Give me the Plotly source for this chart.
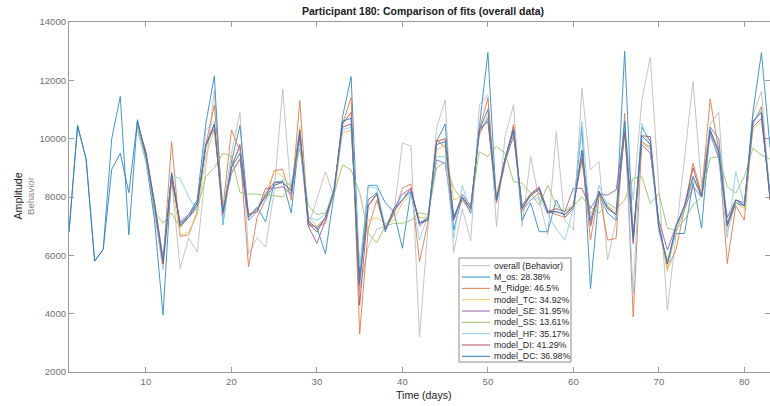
import plotly.graph_objects as go

# ---- data -------------------------------------------------------------
days = list(range(1, 84))

behavior = [None, None, None, None, None, None, None, None,
            10300, 9200, 7400, 5500, 8600, 5550, 6600, 6100, 9000, 11650,
            7500, 9500, 10900, 6050, 6600, 6300, 8200, 11700, 8000, 10000,
            7000, 7900, 8870, 8000, 10400, 10500, 4800, 6300, 6900, 6980,
            7400, 9850, 9750, 3200, 7000, 10360, 11330, 6100, 7600, 6500,
            11160, 11500, 6980, 10070, 11160, 6980, 9390, 7900, 6700, 10240,
            7200, 6870, 11730, 8930, 9210, 5840, 7200, 10300, 7900, 11300,
            12800, 8300, 4120, 6700, 9300, 11960, 8350, 10500, 10900, 6800,
            7800, 7600, 10800, 11620, 8000]

m_os = [6800, 10450, 9300, 5800, 6200, 10000, 11450, 6700,
        10650, 9300, 7200, 3950, 8850, 7000, 7400, 7900, 10500, 12150,
        7050, 9200, 10450, 7350, 7650, 7150, 8500, 8550, 7450, 10200,
        7100, 6950, 6050, 8100, 10750, 12130, 5300, 8400, 8400, 7800,
        7500, 6240, 8200, 7100, 7300, 9900, 10500, 6870, 8000, 7440,
        10400, 12950, 7800, 9300, 10400, 7200, 7800, 6810, 6810, 7900,
        7300, 7600, 10400, 4860, 8100, 7450, 7200, 13000, 6500, 10400,
        9900, 6900, 5800, 6750, 6750, 8500, 6930, 10400, 10000, 7000,
        7800, 7700, 10900, 12950, 9700]

m_ridge = [None, None, None, None, None, None, None, None,
           10500, 9450, 7600, 5700, 9900, 6650, 6700, 7500, 9800, 11150,
           7600, 10300, 9600, 5600, 7300, 7900, 8900, 8950, 7900, 11300,
           7000, 7000, 7100, 8200, 10500, 11420, 3300, 6900, 7900, 6900,
           7400, 8300, 8450, 5780, 7150, 9950, 9700, 7200, 7900, 7500,
           10300, 11390, 7800, 9100, 10500, 7500, 7900, 8150, 7500, 7400,
           7300, 7600, 9600, 6520, 8200, 6520, 6580, 10870, 3890, 9900,
           9700, 6900, 5550, 6180, 7600, 9160, 8100, 11360, 9600, 5720,
           7700, 7210, 10500, 11100, 7900]

model_tc = [None, None, None, None, None, None, None, None,
            10400, 9300, 7800, 5900, 8500, 6700, 6800, 7400, 9400, 10300,
            7700, 8900, 9300, 7400, 7600, 8100, 8900, 8700, 8300, 10400,
            7300, 7000, 7300, 8100, 10200, 10300, 5600, 7200, 7300, 7100,
            7200, 7800, 8100, 7300, 7300, 9600, 9800, 7900, 8000, 7700,
            10100, 10800, 8100, 9200, 10100, 7700, 8100, 8300, 7500, 7600,
            7500, 7800, 9200, 7400, 8000, 7700, 7500, 10300, 6800, 9900,
            9600, 7100, 5430, 6900, 7500, 8600, 8100, 10100, 9400, 7300,
            7800, 7600, 10300, 10600, 8100]

model_se = [None, None, None, None, None, None, None, None,
            10500, 9550, 7800, 5900, 8600, 7150, 7400, 7800, 9800, 10350,
            7500, 8800, 9300, 7200, 7500, 8300, 8300, 8350, 8100, 10000,
            7000, 6410, 7200, 8300, 10400, 10500, 5200, 7700, 8100, 6900,
            7600, 8100, 8300, 7000, 7300, 9270, 9150, 7200, 8100, 7700,
            10200, 10700, 7900, 9200, 10100, 7700, 8100, 8350, 7500, 7600,
            7500, 8300, 8300, 7610, 8100, 8070, 8240, 10300, 6700, 9800,
            9500, 7200, 6180, 7000, 7600, 8350, 8000, 10200, 9300, 7300,
            7900, 7800, 10400, 10700, 8100]

model_ss = [None, None, None, None, None, None, None, None,
            10400, 9300, 7500, 7100, 7450, 6950, 7300, 7600, 8700, 9000,
            9500, 9400, 8150, 8100, 8100, 8050, 8050, 8000, 8400, 9670,
            7700, 7400, 7450, 8100, 9100, 8930, 8150, 6750, 6430, 7000,
            7100, 7100, 7200, 7460, 7400, 9000, 9200, 8300, 7900, 7700,
            9560, 9390, 9730, 9500, 8530, 8470, 8130, 7720, 8410, 7700,
            7500, 7700, 8000, 7650, 7450, 7800, 7600, 7900, 8640, 8700,
            7780, 8130, 6925, 6870, 7210, 7730, 8000, 9330, 9390, 8355,
            8130, 8700, 9670, 9440, 9300]

model_hf = [None, None, None, None, None, None, None, None,
            10500, 9200, 7600, 5900, 8700, 8640, 8000, 7500, 10300, 10600,
            7070, 9100, 9700, 7300, 7600, 7900, 8400, 8600, 8400, 9900,
            7300, 7200, 7400, 8300, 10300, 10400, 5600, 8350, 8300, 7000,
            7500, 8100, 8100, 6520, 7400, 9380, 9400, 6580, 8400, 7500,
            10300, 10700, 7900, 9300, 10200, 7600, 7900, 8000, 7400, 6900,
            6520, 7600, 10590, 7000, 8400, 7700, 7300, 10600, 4690, 10530,
            9700, 6800, 5800, 6750, 7600, 8700, 8100, 10100, 9400, 6600,
            8870, 7700, 10500, 11000, 8000]

model_di = [None, None, None, None, None, None, None, None,
            10600, 9500, 7800, 5700, 8800, 7000, 7300, 7700, 9800, 10500,
            7400, 9000, 9800, 7400, 7500, 8100, 8500, 8500, 8200, 10300,
            7100, 6800, 7300, 8200, 10500, 10900, 4290, 7700, 8100, 6900,
            7500, 7900, 8300, 7100, 7200, 9900, 10000, 7300, 8000, 7600,
            10300, 10590, 7900, 9300, 10300, 7600, 8100, 8300, 7500, 7500,
            7400, 7700, 9330, 7000, 8200, 7600, 7400, 10190, 6400, 10100,
            10070, 7000, 5700, 7000, 7700, 9000, 8000, 10300, 9600, 7000,
            7900, 7700, 10600, 10900, 7900]

model_dc = [6800, 10450, 9300, 5800, 6200, 8950, 9500, 8150,
            10600, 9400, 7700, 5800, 8800, 7100, 7300, 7800, 9700, 10500,
            7500, 9000, 9500, 7300, 7600, 8000, 8400, 8500, 8200, 10200,
            7200, 6900, 7300, 8200, 10600, 10700, 5000, 7900, 8150, 6800,
            7600, 7900, 8200, 7100, 7250, 9800, 9900, 7300, 8000, 7600,
            10300, 11000, 7900, 9300, 10300, 7600, 8050, 8250, 7450, 7500,
            7400, 7650, 9600, 7200, 8150, 7650, 7400, 10600, 6600, 10100,
            9800, 7000, 5700, 7000, 7700, 8700, 8000, 10300, 9500, 7100,
            7900, 7700, 10600, 10900, 8000]

series_names = ["overall (Behavior)", "M_os: 28.38%", "M_Ridge: 46.5%",
                "model_TC: 34.92%", "model_SE: 31.95%", "model_SS: 13.61%",
                "model_HF: 35.17%", "model_DI: 41.29%", "model_DC: 36.98%"]
series_values = [behavior, m_os, m_ridge, model_tc, model_se, model_ss,
                 model_hf, model_di, model_dc]
series_colors = ["#bdbdbd", "#2f8bcc", "#e07a4a", "#f0c460", "#9a62a8",
                 "#98c265", "#86d0ef", "#b8505f", "#2f7fc0"]

x_ticks = [10, 20, 30, 40, 50, 60, 70, 80]
y_ticks = [2000, 4000, 6000, 8000, 10000, 12000, 14000]

# ---- layout geometry (pixels) ----------------------------------------
W, H = 770, 406
ML, MR, MT, MB = 69, 0, 22, 34
PW, PH = W - ML - MR, H - MT - MB
FONT = "Liberation Sans, Arial, Helvetica, sans-serif"


def px_x(px):
    return (px - ML) / PW


def px_y(py):
    return (H - MB - py) / PH


fig = go.Figure()
for name, vals, col in zip(series_names, series_values, series_colors):
    fig.add_trace(go.Scatter(x=days, y=vals, mode="lines", name=name,
                             line=dict(color=col, width=0.9),
                             showlegend=False, connectgaps=False))

axis_common = dict(showline=True, linecolor="#9a9a9a", linewidth=1,
                   mirror="ticks", ticks="inside", ticklen=5,
                   tickcolor="#9a9a9a", showgrid=False, zeroline=False,
                   tickfont=dict(family=FONT, size=9.6, color="#707070"))

fig.update_xaxes(range=[1, 83], tickvals=x_ticks, **axis_common)
fig.update_yaxes(range=[2000, 14000], tickvals=y_ticks, tickformat="d",
                 **axis_common)

shapes = []
annotations = []

# legend box
lx0, lx1, ly0, ly1 = 459, 571, 258, 362
shapes.append(dict(type="rect", xref="paper", yref="paper",
                   x0=px_x(lx0), x1=px_x(lx1), y0=px_y(ly1), y1=px_y(ly0),
                   line=dict(color="#8c8c8c", width=1), fillcolor="white",
                   layer="above"))
for i, (name, col) in enumerate(zip(series_names, series_colors)):
    cy = 265.7 + i * 11.33
    shapes.append(dict(type="line", xref="paper", yref="paper",
                       x0=px_x(462), x1=px_x(490), y0=px_y(cy), y1=px_y(cy),
                       line=dict(color=col, width=1), layer="above"))
    annotations.append(dict(text=name, xref="paper", yref="paper",
                            x=px_x(492), y=px_y(cy), xanchor="left",
                            yanchor="middle", showarrow=False,
                            font=dict(family=FONT, size=8.8, color="#262626")))

# axis titles
annotations.append(dict(text="Time (days)", xref="paper", yref="paper",
                        x=px_x(424), y=px_y(395), xanchor="center",
                        yanchor="middle", showarrow=False,
                        font=dict(family=FONT, size=10.6, color="#1a1a1a")))
annotations.append(dict(text="Amplitude", xref="paper", yref="paper",
                        x=px_x(17.5), y=px_y(196), xanchor="center",
                        yanchor="middle", showarrow=False, textangle=-90,
                        font=dict(family=FONT, size=10.6, color="#1a1a1a")))
annotations.append(dict(text="Behavior", xref="paper", yref="paper",
                        x=px_x(30), y=px_y(196), xanchor="center",
                        yanchor="middle", showarrow=False, textangle=-90,
                        font=dict(family=FONT, size=9.6, color="#8a8a8a")))

fig.update_layout(
    width=W, height=H,
    margin=dict(l=ML, r=MR, t=MT, b=MB),
    paper_bgcolor="white", plot_bgcolor="white",
    title=dict(text="<b>Participant 180: Comparison of fits (overall data)</b>",
               x=px_x(423), xref="paper", xanchor="center",
               y=1 - 11 / H, yref="container", yanchor="middle",
               font=dict(family=FONT, size=10.5, color="#1a1a1a")),
    shapes=shapes, annotations=annotations,
    showlegend=False,
)

fig.write_html("out.html")
